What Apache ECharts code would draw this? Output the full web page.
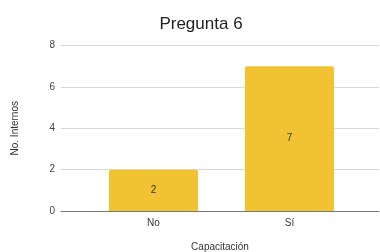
<!DOCTYPE html>
<html>
<head>
<meta charset="utf-8">
<script src="https://cdn.jsdelivr.net/npm/echarts@6/dist/echarts.min.js"></script>
<style>
html,body{margin:0;padding:0;background:#fff;}
#chart{width:380px;height:252px;}
</style>
</head>
<body>
<div id="chart"></div>
<script>
// Pregunta 6 - barras
var categorias = ['No', 'Sí'];
var valores = [2, 7];
var yTicks = [0, 2, 4, 6, 8];
var fuente = 'Arial, "Liberation Sans", sans-serif';

var chart = echarts.init(document.getElementById('chart'));
var option = {
    animation: false,
    title: {
        text: 'Pregunta 6',
        left: 196,
        textAlign: 'center',
        top: 11,
        textStyle: { fontFamily: fuente, fontSize: 17, fontWeight: 'normal', color: '#222' }
    },
    grid: [
        { left: 61, right: 1, top: 45.5, bottom: 41, outerBoundsMode: 'none' },
        { left: 85.5, right: 22.5, top: 45.5, bottom: 41, outerBoundsMode: 'none' }
    ],
    xAxis: [
        {
            gridIndex: 0,
            type: 'value',
            min: 0,
            max: 1,
            name: 'Capacitación',
            nameLocation: 'middle',
            nameGap: 31,
            nameTextStyle: { fontFamily: fuente, fontSize: 10, color: '#333' },
            axisLine: { show: true, onZero: false, lineStyle: { color: '#777', width: 1 } },
            axisTick: { show: false },
            axisLabel: { show: false },
            splitLine: { show: false }
        },
        {
            gridIndex: 1,
            type: 'category',
            data: categorias,
            axisLine: { show: false },
            axisTick: { show: false },
            axisLabel: { fontFamily: fuente, fontSize: 10, color: '#333', margin: 7 }
        }
    ],
    yAxis: [
        {
            gridIndex: 0,
            type: 'value',
            min: yTicks[0],
            max: yTicks[yTicks.length - 1],
            interval: 2,
            name: 'No. Internos',
            nameLocation: 'middle',
            nameGap: 41,
            nameTextStyle: { fontFamily: fuente, fontSize: 10, color: '#333' },
            axisLine: { show: false },
            axisTick: { show: false },
            axisLabel: { fontFamily: fuente, fontSize: 10, color: '#444', margin: 6 },
            splitLine: { lineStyle: { color: '#d9d9d9', width: 1 } }
        },
        {
            gridIndex: 1,
            type: 'value',
            min: yTicks[0],
            max: yTicks[yTicks.length - 1],
            interval: 2,
            show: false,
            splitLine: { show: false }
        }
    ],
    series: [
        {
            type: 'bar',
            xAxisIndex: 1,
            yAxisIndex: 1,
            data: valores,
            barCategoryGap: '34.5%',
            itemStyle: { color: '#f1c232', borderRadius: [2, 2, 0, 0] },
            label: {
                show: true,
                position: 'inside',
                fontFamily: fuente,
                fontSize: 10,
                color: '#333'
            }
        }
    ]
};
chart.setOption(option);
</script>
</body>
</html>
